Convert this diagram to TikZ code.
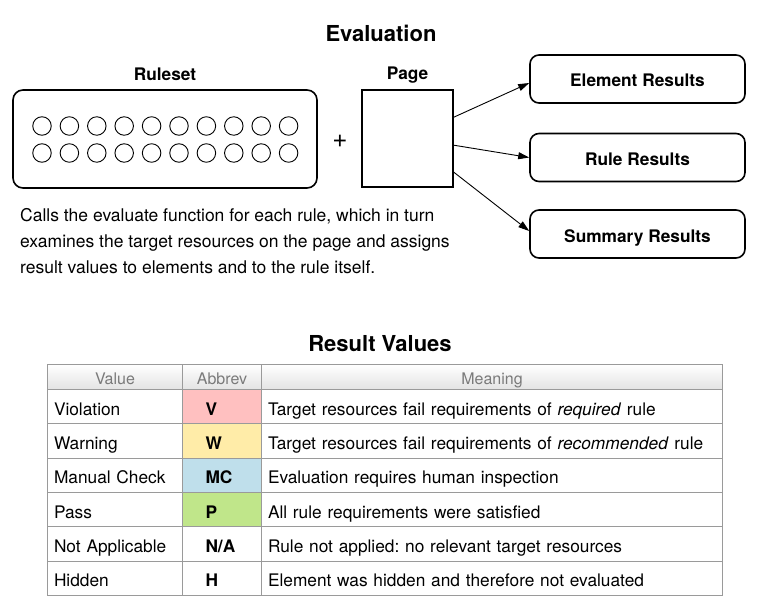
\documentclass[tikz,border=0pt]{standalone}
\usepackage{fontspec}
\setmainfont{TeX Gyre Heros}
\frenchspacing
\usetikzlibrary{arrows.meta, positioning, calc}
\definecolor{colV}{HTML}{FFC0C0}
\definecolor{colW}{HTML}{FFECA8}
\definecolor{colMC}{HTML}{BFDFEB}
\definecolor{colP}{HTML}{C0E68A}
\definecolor{tablegray}{HTML}{9A9A9A}
\definecolor{headgray}{HTML}{7A7A7A}
\tikzset{
    bigtitle/.style={font=\bfseries\fontsize{22}{26}\selectfont},
    label/.style={font=\bfseries\fontsize{17.3}{20}\selectfont},
    box/.style={draw, line width=1.6pt},
    result/.style={box, rounded corners=9pt, minimum width=215pt, minimum height=48pt,
        text height=16pt, text depth=0pt, font=\bfseries\fontsize{17.3}{20}\selectfont},
    rule/.style={draw, circle, line width=0.9pt, minimum size=18.5pt, inner sep=0pt},
    flow/.style={line width=0.9pt, -{Triangle[length=11pt,width=7pt]}},
    cell/.style={draw=tablegray, line width=1pt, anchor=north west, minimum height=34.3pt,
        inner xsep=6.5pt, inner ysep=0pt, text height=17pt, text depth=0pt,
        font=\fontsize{17.3}{20}\selectfont},
    valcell/.style={cell, text width=122pt, align=left},
    abbcell/.style={cell, inner xsep=23pt, text width=33pt, align=left,
        font=\bfseries\fontsize{17.3}{20}\selectfont},
    textcell/.style={cell, text width=448pt, align=left},
    head/.style={cell, minimum height=25pt, text height=14pt, top color=white, bottom color=gray!22,
        text=headgray, align=center, font=\fontsize{16}{18}\selectfont}
}
\begin{document}
\begin{tikzpicture}[x=1pt, y=-1pt]
    \useasboundingbox (0,0) rectangle (758,610);
    % evaluation
    \node[bigtitle] (evaltitle) at (381,33) {Evaluation};
    \node[box, rounded corners=10pt, minimum width=304pt, minimum height=98pt] (ruleset) at (165,139) {};
    \node[label] (rulesetlabel) at (165,74) {Ruleset};
    \foreach \i in {0,...,9} {
        \node[rule] (ra\i) at (42+27.4*\i, 126) {};
        \node[rule] (rb\i) at (42+27.4*\i, 153) {};
    }
    \node[font=\fontsize{26}{26}\selectfont] (plus) at (340,141) {+};
    \node[box, minimum width=91pt, minimum height=97pt] (page) at (407.5,138.5) {};
    \node[label] (pagelabel) at (407.5,75) {Page};
    \node[result] (elem) at (637.5,79) {Element Results};
    \node[result] (rules) at (637.5,157.5) {Rule Results};
    \node[result] (summary) at (637.5,234) {Summary Results};
    \draw[flow] ($(page.north east)+(0,28)$) -- ($(elem.west)+(0,4)$);
    \draw[flow] ($(page.north east)+(0,56)$) -- (rules.west);
    \draw[flow] ($(page.north east)+(0,83)$) -- ($(summary.west)+(0,-3)$);
    \node[anchor=north west, align=left, inner sep=0pt, font=\fontsize{17.5}{26}\selectfont] (desc) at (20,208)
        {Calls the evaluate function for each rule, which in turn\\
         examines the target resources on the page and assigns\\
         result values to elements and to the rule itself.};
    % result values
    \node[bigtitle] (restitle) at (380,344) {Result Values};
    \node[head, text width=122pt] (hval) at (47,364) {Value};
    \node[head, text width=66pt] (habb) at (182,364) {Abbrev};
    \node[head, text width=448pt] (htxt) at (261,364) {Meaning};
    \foreach \val/\abb/\col/\txt [count=\r] in {
        Violation/V/colV/{Target resources fail requirements of \textit{required} rule},
        Warning/W/colW/{Target resources fail requirements of \textit{recommended} rule},
        Manual Check/MC/colMC/{Evaluation requires human inspection},
        Pass/P/colP/{All rule requirements were satisfied},
        Not Applicable/{N/A}/white/{Rule not applied: no relevant target resources},
        Hidden/H/white/{Element was hidden and therefore not evaluated}} {
        \node[valcell] (val\r) at (47, 389+34.3*\r-34.3) {\val};
        \node[abbcell, fill=\col] (abb\r) at (182, 389+34.3*\r-34.3) {\abb};
        \node[textcell] (txt\r) at (261, 389+34.3*\r-34.3) {\txt};
    }
\end{tikzpicture}
\end{document}
